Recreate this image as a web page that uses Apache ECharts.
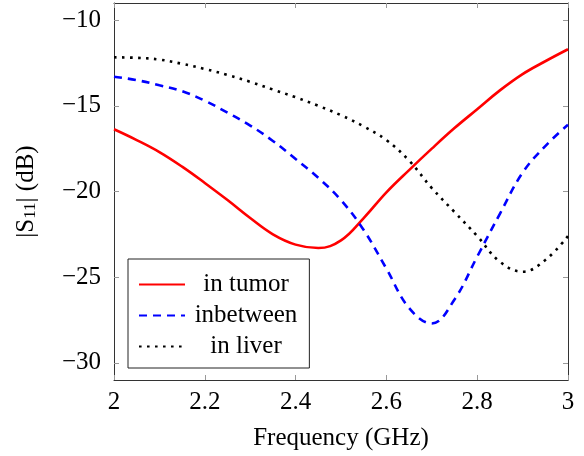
<!DOCTYPE html>
<html>
<head>
<meta charset="utf-8">
<script src="https://cdn.jsdelivr.net/npm/echarts@6/dist/echarts.min.js"></script>
<style>
  html, body { margin: 0; padding: 0; background: #fff; }
  #main { width: 584px; height: 456px; }
</style>
</head>
<body>
<div id="main"></div>
<script>
var freq = [2.00, 2.05, 2.10, 2.15, 2.20, 2.25, 2.30, 2.35, 2.40, 2.45, 2.50,
            2.55, 2.60, 2.65, 2.70, 2.75, 2.80, 2.85, 2.90, 2.95, 3.00];
var inTumor = [-16.37, -17.0, -17.7, -18.55, -19.5, -20.5, -21.55, -22.5, -23.1, -23.3, -22.85,
               -21.55, -20.05, -18.75, -17.5, -16.3, -15.2, -14.1, -13.15, -12.4, -11.7];
var inBetween = [-13.3, -13.5, -13.8, -14.15, -14.7, -15.4, -16.15, -17.05, -18.1, -19.2, -20.5,
                 -22.25, -24.5, -26.8, -27.7, -26.3, -23.8, -21.3, -18.9, -17.35, -16.1];
var inLiver = [-12.17, -12.2, -12.3, -12.55, -12.85, -13.2, -13.6, -14.05, -14.5, -15.0, -15.55,
               -16.2, -17.0, -18.2, -19.8, -21.2, -22.6, -24.1, -24.68, -24.0, -22.6];
var names = ['in tumor', 'inbetween', 'in liver'];
var xTicks = [2, 2.2, 2.4, 2.6, 2.8, 3];
var yTicks = [-30, -25, -20, -15, -10];

function pairs(ys) {
    return freq.map(function (f, i) { return [f, ys[i]]; });
}

var font = 'Liberation Serif';
var fs = 25;
var frame = { show: true, lineStyle: { color: '#333', width: 1 } };
var ticks = { show: true, inside: true, length: 5, lineStyle: { color: '#999' } };

var myChart = echarts.init(document.getElementById('main'));

var option = {
    animation: false,
    backgroundColor: '#fff',
    textStyle: { fontFamily: font, color: '#000' },
    grid: { left: 114, right: 16, top: 3, bottom: 76 },
    legend: {
        orient: 'vertical',
        left: 128,
        top: 259,
        data: names,
        borderColor: '#222',
        borderWidth: 1,
        borderRadius: 0,
        padding: [13, 12, 9, 10],
        itemGap: 6,
        itemWidth: 46,
        itemHeight: 14,
        itemStyle: { opacity: 0 },
        formatter: function (n) { return '{c|' + n + '}'; },
        textStyle: {
            fontFamily: font,
            fontSize: fs,
            color: '#000',
            rich: { c: { width: 112, align: 'center', fontFamily: font, fontSize: fs } }
        }
    },
    xAxis: [{
        type: 'value',
        min: 2,
        max: 3,
        name: 'Frequency (GHz)',
        nameLocation: 'middle',
        nameGap: 46,
        nameTextStyle: { fontFamily: font, fontSize: fs, color: '#000' },
        axisLine: frame,
        axisTick: Object.assign({ customValues: xTicks }, ticks),
        axisLabel: {
            customValues: xTicks,
            fontFamily: font, fontSize: fs, color: '#000', margin: 10,
            formatter: function (v) { return String(v); }
        },
        splitLine: { show: false }
    }, {
        type: 'value',
        position: 'top',
        min: 2,
        max: 3,
        axisLine: frame,
        axisTick: Object.assign({ customValues: xTicks }, ticks),
        axisLabel: { show: false },
        splitLine: { show: false }
    }],
    yAxis: [{
        type: 'value',
        min: -31,
        max: -9,
        name: '|S{sub|11}| (dB)',
        nameLocation: 'middle',
        nameGap: 75,
        nameRotate: 90,
        nameTextStyle: {
            fontFamily: font, fontSize: fs, color: '#000',
            rich: { sub: { fontFamily: font, fontSize: 17, padding: [9, 0, 0, 0] } }
        },
        axisLine: frame,
        axisTick: Object.assign({ customValues: yTicks }, ticks),
        axisLabel: {
            customValues: yTicks,
            fontFamily: font, fontSize: fs, color: '#000', margin: 13,
            formatter: function (v) { return v < 0 ? '\u2212' + Math.abs(v) : String(v); }
        },
        splitLine: { show: false }
    }, {
        type: 'value',
        position: 'right',
        min: -31,
        max: -9,
        axisLine: frame,
        axisTick: Object.assign({ customValues: yTicks }, ticks),
        axisLabel: { show: false },
        splitLine: { show: false }
    }],
    series: [{
        name: names[0],
        type: 'line',
        smooth: 0.4,
        symbol: 'none',
        data: pairs(inTumor),
        itemStyle: { color: '#ff0000' },
        lineStyle: { color: '#ff0000', width: 2.6 }
    }, {
        name: names[1],
        type: 'line',
        smooth: 0.4,
        symbol: 'none',
        data: pairs(inBetween),
        itemStyle: { color: '#0000ff' },
        lineStyle: { color: '#0000ff', width: 2.6, type: [8, 6] }
    }, {
        name: names[2],
        type: 'line',
        smooth: 0.4,
        symbol: 'none',
        data: pairs(inLiver),
        itemStyle: { color: '#000' },
        lineStyle: { color: '#000', width: 2.6, type: [2.6, 5.4] }
    }]
};

myChart.setOption(option);
</script>
</body>
</html>
